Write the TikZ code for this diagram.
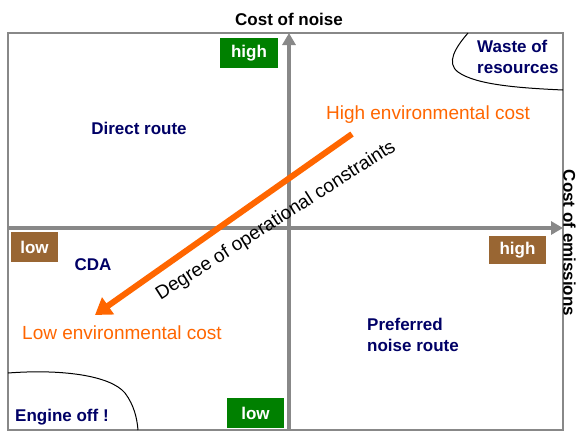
\documentclass[tikz,border=0pt]{standalone}
\usepackage{fontspec}
\setmainfont{Liberation Sans}
\usetikzlibrary{arrows.meta}
\definecolor{navy}{RGB}{0,0,102}
\definecolor{orng}{RGB}{255,102,0}
\definecolor{grn}{RGB}{0,128,0}
\definecolor{brwn}{RGB}{153,102,51}
\definecolor{axgrey}{RGB}{136,136,136}
\tikzset{
  lbl/.style={font=\fontsize{17bp}{21bp}\selectfont\bfseries, text=navy, align=left, inner sep=0},
  axlbl/.style={font=\fontsize{17bp}{21bp}\selectfont\bfseries, text=black, inner sep=0},
  tag/.style={font=\fontsize{17bp}{21bp}\selectfont\bfseries, text=white, inner sep=0, minimum height=30bp},
  envtxt/.style={font=\fontsize{19bp}{23bp}\selectfont, text=orng, inner sep=0},
  axis/.style={draw=axgrey, line width=4bp, -{Triangle[length=12bp,width=13bp]}},
  frame/.style={draw=axgrey, line width=1.2bp},
  curve/.style={draw=black, line width=1bp},
}
\begin{document}
\begin{tikzpicture}[x=1bp,y=-1bp]
\useasboundingbox (0,0) rectangle (576,431);
\fill[white] (0,0) rectangle (576,431);
% frame
\draw[frame] (8,33) rectangle (563,430);
% curves
\draw[curve] (468,33) .. controls (455,48) and (446,63) .. (458,72) .. controls (476,85) and (520,88) .. (563,90);
\draw[curve] (8,373) .. controls (60,369) and (110,375) .. (125,393) .. controls (134,405) and (137,418) .. (138,430);
% axes
\coordinate (vb) at (289,430);
\coordinate (vt) at (289,33);
\coordinate (hl) at (8,228);
\coordinate (hr) at (563,228);
\draw[axis] (vb) -- (vt);
\draw[axis] (hl) -- (hr);
% axis labels
\node[axlbl] (cn) at (289,19) {Cost of noise};
\node[axlbl, rotate=-90] (ce) at (569.5,243) {Cost of emissions};
% tags
\node[tag, fill=grn, minimum width=58bp] (gh) at (249,53) {high};
\node[tag, fill=grn, minimum width=57bp] (gl) at (255.5,413) {low};
\node[tag, fill=brwn, minimum width=47bp] (bl) at (34.5,247) {low};
\node[tag, fill=brwn, minimum width=57bp, minimum height=28bp] (bh) at (517.5,250) {high};
% region labels
\node[lbl] (dr) at (139,128) {Direct route};
\node[lbl, anchor=west] (wr) at (477,57) {Waste of\\resources};
\node[lbl] (cda) at (93,265) {CDA};
\node[lbl, anchor=west] (eo) at (15,417) {Engine off !};
\node[lbl, anchor=west] (pn) at (367,334.5) {Preferred\\noise route};
% environmental cost
\node[envtxt] (hi) at (428,115) {High environmental cost};
\node[envtxt, anchor=west] (lo) at (22,333) {Low environmental cost};
\coordinate (as) at (352,134);
\coordinate (ae) at (95,315);
\draw[orng, line width=6bp, -{Triangle[length=16bp,width=20bp]}] (as) -- (ae);
\node[font=\fontsize{19bp}{23bp}\selectfont, rotate=32.5, inner sep=0] (deg) at (276,221) {Degree of operational constraints};
\end{tikzpicture}
\end{document}
